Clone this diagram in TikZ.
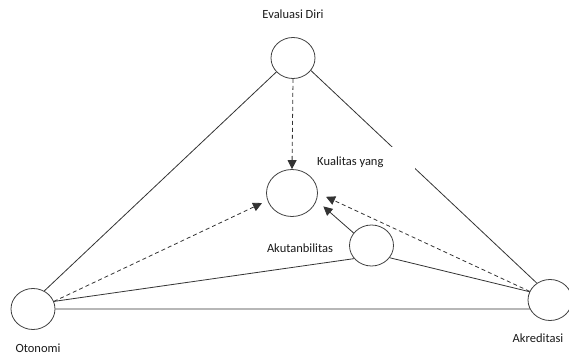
\documentclass[tikz,border=0pt]{standalone}
\usepackage{fontspec}
\setmainfont{Carlito}
\usetikzlibrary{shapes.geometric,arrows.meta}
\begin{document}
\begin{tikzpicture}[x=1pt,y=-1pt,
  circ/.style={draw=black!75,line width=0.8pt,ellipse,inner sep=0pt,minimum width=44pt,minimum height=41pt},
  bigcirc/.style={circ,minimum width=51pt,minimum height=47pt},
  lbl/.style={font=\fontsize{12.5}{14}\selectfont,text=black!90,inner sep=0pt},
  link/.style={draw=black!80,line width=0.8pt},
  dlink/.style={link,dash pattern=on 4pt off 3pt},
  tip/.style={-{Triangle[length=9pt,width=9pt]}}
]
\useasboundingbox (0,0) rectangle (569,355);
\node[circ] (eval) at (293,58) {};
\node[bigcirc] (kual) at (292,193) {};
\node[circ] (oto) at (33,309) {};
\node[circ] (akr) at (550,300) {};
\node[circ] (akut) at (371.5,245.5) {};

\node[lbl] (evall) at (293,14) {Evaluasi Diri};
\node[lbl] (otol) at (38,348) {Otonomi};
\node[lbl] (akrl) at (538,338) {Akreditasi};
\node[lbl] (akutl) at (300,248) {Akutanbilitas};

% solid links
\draw[link] (oto.58) -- (eval.220);
\draw[link] (eval.-35) -- (akr.128);
\draw[link] (oto.20) -- (akut.217);
\draw[link] (akut.-34) -- (akr.158);
\draw[link] (oto.east) -- (akr.204);

% label covering part of the line
\node[fill=white,inner sep=0pt,anchor=north east,minimum width=100pt,minimum height=24pt] (kuall) at (415,147) {};
\node[lbl,anchor=west] (kualt) at (317,162) {Kualitas yang};

% arrows
\draw[dlink,tip] (eval.south) -- (kual.north);
\draw[dlink,tip,shorten >=6pt] (oto.20) -- (kual.197);
\draw[dlink,tip,shorten >=9pt] (akr.157) -- (kual.east);
\draw[link,tip,shorten >=9pt] (akut.145) -- (kual.-17);
\end{tikzpicture}
\end{document}
